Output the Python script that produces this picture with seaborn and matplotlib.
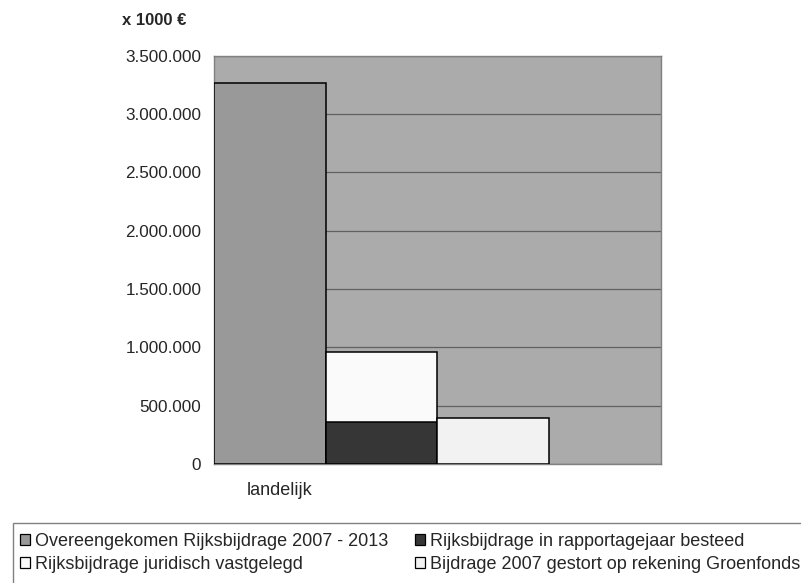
import pandas as pd
import matplotlib.pyplot as plt
import seaborn as sns
from matplotlib.patches import Patch, Rectangle

# Data (x 1000 euro)
series = ['Overeengekomen Rijksbijdrage 2007 - 2013',
          'Rijksbijdrage juridisch vastgelegd',
          'Rijksbijdrage in rapportagejaar besteed',
          'Bijdrage 2007 gestort op rekening Groenfonds']
slots = ['s0', 's1', 's1', 's2']
values = [3270000, 958000, 357000, 395000]
colors = ['#999999', '#fafafa', '#363636', '#f2f2f2']
slot_order = ['s0', 's1', 's2', 's3']
category = 'landelijk'
yticks = [0, 500000, 1000000, 1500000, 2000000, 2500000, 3000000, 3500000]

df = pd.DataFrame({'slot': slots, 'serie': series, 'value': values})

sns.set_style("white")
plt.rcParams['font.family'] = ['Liberation Sans', 'DejaVu Sans']

fig = plt.figure(figsize=(8.01, 5.83), dpi=100)
ax = fig.add_axes([0.267, 0.204, 0.558, 0.7005])
ax.set_facecolor('#ababab')

sns.barplot(data=df, x='slot', y='value', hue='serie', order=slot_order,
            hue_order=series, palette=colors, dodge=False, width=1,
            edgecolor='black', linewidth=1.1, ax=ax, legend=False, zorder=3)

ax.set_ylim(0, 3500000)
ax.set_xlim(-0.5, 3.5)
ax.set_yticks(yticks)
ax.set_yticklabels([f'{v:,}'.replace(',', '.') for v in yticks], fontsize=12.3)
ax.set_xticks([-0.5, 0.5, 1.5, 2.5, 3.5])
ax.set_xticklabels([])
ax.tick_params(axis='both', length=5, width=0.8, color='#808080', direction='out')
ax.tick_params(axis='y', pad=4)
ax.yaxis.grid(True, color='#606060', linewidth=0.9, zorder=1)
ax.set_axisbelow(True)
for s in ax.spines.values():
    s.set_color('#808080')
    s.set_linewidth(1.0)
ax.set_xlabel('')
ax.set_ylabel('')

ax.text(0.09, -0.064, category, transform=ax.get_xaxis_transform(),
        ha='center', va='center', fontsize=13)

fig.text(0.193, 0.964, 'x 1000 €', ha='center', va='center',
         fontsize=12, fontweight='bold')

# legend at the bottom (box runs off the figure edge)
handles = [Patch(facecolor=c, edgecolor='black', linewidth=0.9) for c in colors]
fig.legend(handles, series, loc='upper left', bbox_to_anchor=(0.025, 0.086),
           ncol=2, frameon=False, fontsize=13, handlelength=0.55,
           handleheight=0.55, handletextpad=0.28, columnspacing=1.5,
           labelspacing=0.32, borderpad=0, borderaxespad=0)
fig.add_artist(Rectangle((13 / 801, -0.1), 1.1, 0.2029, transform=fig.transFigure,
                         fill=False, edgecolor='#808080', linewidth=1.0))

plt.savefig('out.png', dpi=100)
